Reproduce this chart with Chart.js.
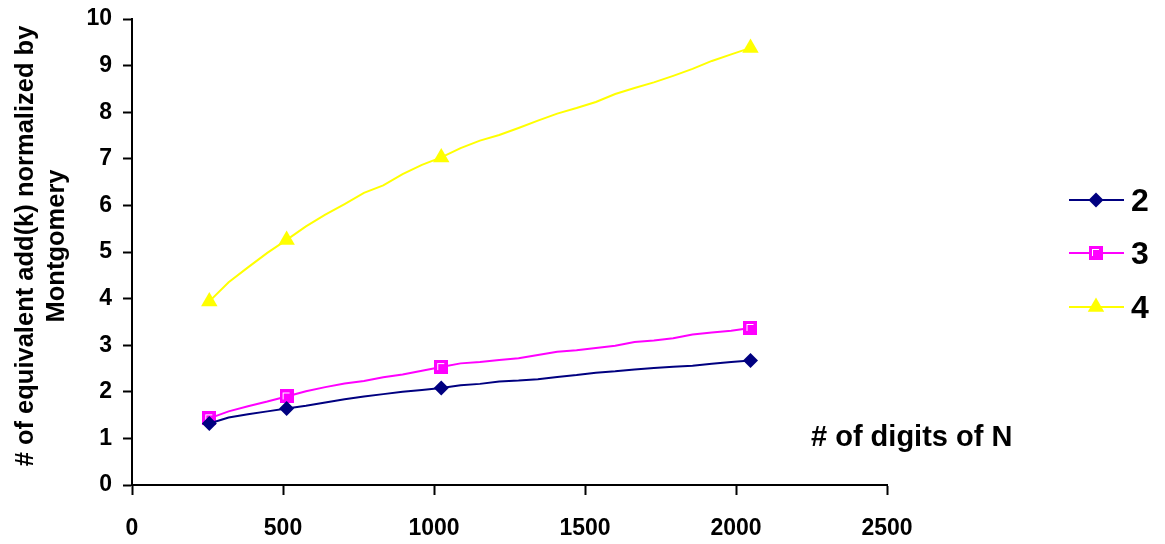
<!DOCTYPE html>
<html>
<head>
<meta charset="utf-8">
<script src="https://cdn.jsdelivr.net/npm/chart.js@4/dist/chart.umd.min.js"></script>
<style>
  html, body { margin: 0; padding: 0; background: #ffffff; }
  #wrap { width: 1165px; height: 544px; }
</style>
</head>
<body>
<div id="wrap"><canvas id="chart" width="1165" height="544"></canvas></div>
<script>
// Number of digits of N (x values of every sample)
const digits = [256, 320, 384, 448, 512, 576, 640, 704, 768, 832, 896, 960, 1024,
  1088, 1152, 1216, 1280, 1344, 1408, 1472, 1536, 1600, 1664, 1728, 1792, 1856, 1920, 1984, 2048];

// Samples that carry a marker
const markedDigits = [256, 512, 1024, 2048];

// Equivalent add(k) normalized by Montgomery, per window size k
const seriesNames = ['2', '3', '4'];
const k2 = [1.32, 1.45, 1.52, 1.58, 1.64, 1.70, 1.77, 1.84, 1.90, 1.95, 2.00, 2.04, 2.08,
  2.14, 2.17, 2.22, 2.24, 2.27, 2.32, 2.36, 2.41, 2.44, 2.48, 2.51, 2.54, 2.56, 2.60, 2.64, 2.67];
const k3 = [1.43, 1.58, 1.69, 1.79, 1.90, 2.01, 2.10, 2.18, 2.23, 2.31, 2.37, 2.45, 2.53,
  2.61, 2.64, 2.68, 2.72, 2.79, 2.86, 2.89, 2.94, 2.99, 3.07, 3.10, 3.15, 3.23, 3.27, 3.31, 3.37];
const k4 = [3.94, 4.35, 4.67, 4.98, 5.26, 5.55, 5.80, 6.03, 6.27, 6.43, 6.67, 6.87, 7.03,
  7.23, 7.39, 7.51, 7.66, 7.82, 7.97, 8.09, 8.22, 8.39, 8.52, 8.64, 8.78, 8.93, 9.10, 9.24, 9.38];

// Axis ticks
const xTicks = [0, 500, 1000, 1500, 2000, 2500];
const yTicks = [0, 1, 2, 3, 4, 5, 6, 7, 8, 9, 10];

const yTitleLines = ['# of equivalent add(k) normalized by', 'Montgomery'];
const xTitle = '# of digits of N';

const FONT = '"Liberation Sans", Arial, Helvetica, sans-serif';
const NAVY = '#000080', MAGENTA = '#FF00FF', YELLOW = '#FFFF00';

// Square marker: magenta block with a thin white inner corner
function makeSquareMarker() {
  const c = document.createElement('canvas');
  c.width = 14; c.height = 14;
  const g = c.getContext('2d');
  g.fillStyle = MAGENTA;
  g.fillRect(0, 0, 14, 14);
  g.fillStyle = '#ffffff';
  g.fillRect(3, 3, 7, 1);
  g.fillRect(3, 3, 1, 7);
  return c;
}
const squareMarker = makeSquareMarker();

const toPoints = vals => digits.map((d, i) => ({ x: d, y: vals[i] }));
const radii = r => digits.map(d => markedDigits.includes(d) ? r : 0);

const styles = [
  { color: NAVY, pointStyle: 'rectRot', radius: 7.5 },
  { color: MAGENTA, pointStyle: squareMarker, radius: 7 },
  { color: YELLOW, pointStyle: 'triangle', radius: 9.5 }
];
const values = [k2, k3, k4];

const datasets = seriesNames.map((name, i) => ({
  label: name,
  data: toPoints(values[i]),
  borderColor: styles[i].color,
  backgroundColor: styles[i].color,
  borderWidth: 2,
  tension: 0,
  pointStyle: styles[i].pointStyle,
  pointRadius: radii(styles[i].radius),
  pointBorderWidth: 0,
  pointHoverRadius: 0
}));

// Titles and legend drawn on top of the plot
const decorations = {
  id: 'decorations',
  afterDraw(chart) {
    const ctx = chart.ctx;
    ctx.save();
    ctx.fillStyle = '#000';

    // Y axis title, two rotated lines
    ctx.font = 'bold 25.5px ' + FONT;
    ctx.textAlign = 'center';
    ctx.textBaseline = 'middle';
    const yc = 246;
    [26, 57].forEach((x, i) => {
      ctx.save();
      ctx.translate(x, yc);
      ctx.rotate(-Math.PI / 2);
      ctx.fillText(yTitleLines[i], 0, 0);
      ctx.restore();
    });

    // X axis title inside the right part of the figure
    ctx.font = 'bold 29px ' + FONT;
    ctx.textAlign = 'left';
    ctx.textBaseline = 'alphabetic';
    ctx.fillText(xTitle, 811, 446);

    // Legend: line segment with marker, then label
    const rows = [200, 253, 307];
    chart.data.datasets.forEach((ds, i) => {
      const y = rows[i];
      ctx.strokeStyle = ds.borderColor;
      ctx.lineWidth = 2;
      ctx.beginPath();
      ctx.moveTo(1069, y);
      ctx.lineTo(1124, y);
      ctx.stroke();
      ctx.fillStyle = ds.backgroundColor;
      ctx.strokeStyle = ds.borderColor;
      Chart.helpers.drawPoint(ctx, {
        pointStyle: ds.pointStyle, radius: styles[i].radius, rotation: 0, borderWidth: 0
      }, 1096, y);
      ctx.fillStyle = '#000';
      ctx.font = 'bold 32px ' + FONT;
      ctx.textAlign = 'left';
      ctx.textBaseline = 'middle';
      ctx.fillText(ds.label, 1131, y + 2);
    });
    ctx.restore();
  }
};

new Chart(document.getElementById('chart'), {
  type: 'line',
  data: { datasets },
  options: {
    responsive: false,
    animation: false,
    devicePixelRatio: 1,
    layout: { padding: { left: 0, top: 19, right: 278, bottom: 0 } },
    plugins: { legend: { display: false }, tooltip: { enabled: false } },
    elements: { line: { fill: false } },
    scales: {
      x: {
        type: 'linear',
        min: 0, max: 2500,
        afterBuildTicks: s => { s.ticks = xTicks.map(v => ({ value: v })); },
        afterFit: s => { s.height = 59; s.paddingLeft = 0; s.paddingRight = 0; },
        border: { display: true, color: '#000', width: 2 },
        grid: { drawOnChartArea: false, drawTicks: true, tickLength: 10, tickWidth: 2, tickColor: '#000' },
        ticks: { color: '#000', padding: 20, maxRotation: 0, autoSkip: false,
          callback: v => String(v),
          font: { family: FONT, size: 23, weight: 'bold' } }
      },
      y: {
        type: 'linear',
        min: 0, max: 10,
        afterBuildTicks: s => { s.ticks = yTicks.map(v => ({ value: v })); },
        afterFit: s => { s.width = 132; s.paddingTop = 0; s.paddingBottom = 0; },
        border: { display: true, color: '#000', width: 2 },
        grid: { drawOnChartArea: false, drawTicks: true, tickLength: 9, tickWidth: 2, tickColor: '#000' },
        ticks: { color: '#000', padding: 11, autoSkip: false,
          callback: v => String(v),
          font: { family: FONT, size: 23, weight: 'bold' } }
      }
    }
  },
  plugins: [decorations]
});
</script>
</body>
</html>
